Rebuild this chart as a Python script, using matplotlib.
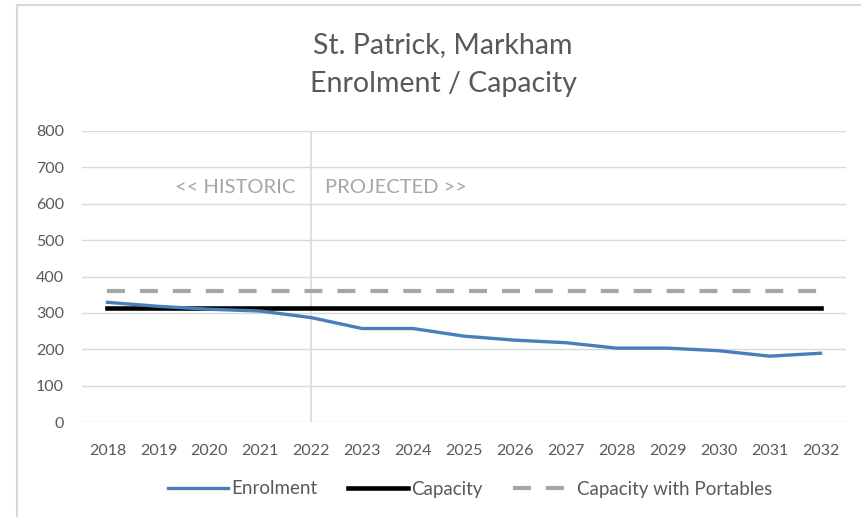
import matplotlib
matplotlib.use("Agg")
import matplotlib.pyplot as plt
from matplotlib.lines import Line2D

plt.rcParams['font.family'] = ['Lato', 'DejaVu Sans']

# 数据
years = ['2018', '2019', '2020', '2021', '2022', '2023', '2024', '2025',
         '2026', '2027', '2028', '2029', '2030', '2031', '2032']
enrolment = [329, 318, 310, 305, 287, 257, 257, 236, 225, 218, 203, 203, 196, 181, 189]
capacity = [314] * len(years)
capacity_portables = [361] * len(years)
split_year = '2022'

grey_text = '#595959'
dash_style = (4.3, 3.6)

fig = plt.figure(figsize=(8.62, 5.17), dpi=100)
ax = fig.add_axes([82 / 862, 95 / 517, 764 / 862, 291 / 517])

x = list(range(len(years)))
ax.plot(x, capacity_portables, color='#a6a6a6', lw=3, dashes=dash_style, zorder=3)
ax.plot(x, capacity, color='black', lw=3.3, zorder=4)
ax.plot(x, enrolment, color='#4a7ebb', lw=2.4, zorder=5)

# 历史 / 预测分界线
sx = years.index(split_year)
ax.axvline(sx, color='#d9d9d9', lw=1.2, zorder=1)
ax.text(sx - 0.32, 645, '<< HISTORIC', ha='right', va='center', color='#a6a6a6', fontsize=14.5)
ax.text(sx + 0.28, 645, 'PROJECTED >>', ha='left', va='center', color='#a6a6a6', fontsize=14.5)

ax.set_xlim(-0.5, len(years) - 0.5)
ax.set_ylim(0, 800)
ax.set_yticks(range(0, 801, 100))
ax.set_xticks(x)
ax.set_xticklabels(years)
ax.yaxis.grid(True, color='#d9d9d9', lw=1)
ax.set_axisbelow(True)
for s in ax.spines.values():
    s.set_visible(False)
ax.tick_params(length=0, colors=grey_text, labelsize=11.5)
ax.tick_params(axis='x', pad=16)
ax.tick_params(axis='y', pad=13)

fig.text(0.514, 1 - 45 / 517, 'St. Patrick, Markham', ha='center', va='center',
         fontsize=20.5, color=grey_text)
fig.text(0.514, 1 - 84 / 517, 'Enrolment / Capacity', ha='center', va='center',
         fontsize=20.5, color=grey_text)

handles = [
    Line2D([], [], color='#4a7ebb', lw=2.4),
    Line2D([], [], color='black', lw=3.3),
    Line2D([], [], color='#a6a6a6', lw=3, dashes=dash_style),
]
fig.legend(handles, ['Enrolment', 'Capacity', 'Capacity with Portables'],
           loc='center', bbox_to_anchor=(0.545, 1 - 489 / 517), ncol=3,
           frameon=False, fontsize=13.5, labelcolor=grey_text,
           handlelength=3.2, handletextpad=0.2, columnspacing=1.6)

# 外框
fig.add_artist(Line2D([17 / 862, 17 / 862], [0, 1 - 5 / 517], color='#d9d9d9', lw=1.5))
fig.add_artist(Line2D([17 / 862, 1], [1 - 5 / 517, 1 - 5 / 517], color='#d9d9d9', lw=1.5))

fig.savefig('out.png', dpi=100)
